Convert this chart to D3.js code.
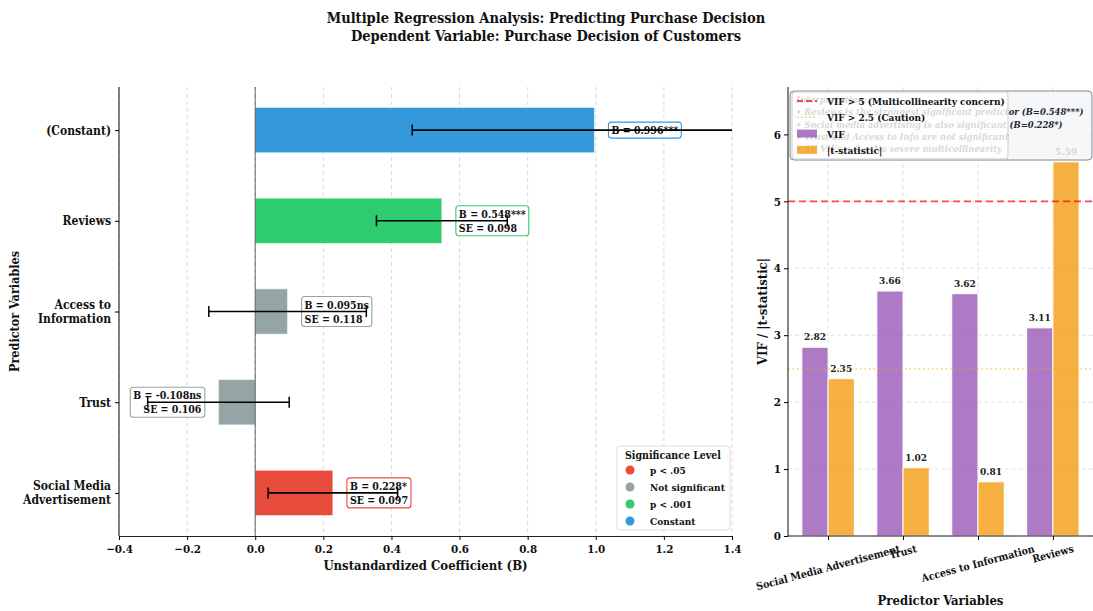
<!DOCTYPE html>
<html>
<head>
<meta charset="utf-8">
<script src="https://cdn.jsdelivr.net/npm/d3@7"></script>
<style>
  html, body { margin: 0; padding: 0; background: #fff; }
  svg { display: block; }
  text { font-family: "DejaVu Serif Condensed", "DejaVu Serif", serif; font-stretch: condensed; font-weight: bold; fill: #111; }
</style>
</head>
<body>
<svg id="chart" width="1093" height="611"></svg>
<script>
// ---- Regression coefficients (bottom to top) ----
const predictors = ["Social Media Advertisement", "Trust", "Access to Information", "Reviews", "(Constant)"];
const predictorLabels = [["Social Media", "Advertisement"], ["Trust"], ["Access to", "Information"], ["Reviews"], ["(Constant)"]];
const coefB = [0.228, -0.108, 0.095, 0.548, 0.996];
const coefSE = [0.097, 0.106, 0.118, 0.098, 0.273];
const sigMark = ["*", "ns", "ns", "***", "***"];
const sigGroup = ["p < .05", "Not significant", "Not significant", "p < .001", "Constant"];
const showSE = [true, true, true, true, false];

const sigLevels = ["p < .05", "Not significant", "p < .001", "Constant"];
const sigColors = ["#e74c3c", "#95a5a6", "#2ecc71", "#3498db"];

const coefTicks = [-0.4, -0.2, 0.0, 0.2, 0.4, 0.6, 0.8, 1.0, 1.2, 1.4];

// ---- Collinearity diagnostics ----
const vifPredictors = ["Social Media Advertisement", "Trust", "Access to Information", "Reviews"];
const vifValues = [2.82, 3.66, 3.62, 3.11];
const tAbsValues = [2.35, 1.02, 0.81, 5.59];
const vifTicks = [0, 1, 2, 3, 4, 5, 6];
const vifThresholds = [5, 2.5];

const interpretationLines = [
  "Interpretation:",
  "• Reviews is the strongest significant predictor (B=0.548***)",
  "• Social media advertising is also significant (B=0.228*)",
  "• Trust and Access to Info are not significant",
  "• All VIFs < 5 → No severe multicollinearity"
];

const svg = d3.select("#chart");
const colorOf = d3.scaleOrdinal().domain(sigLevels).range(sigColors);

// ---- Titles ----
svg.append("text").attr("x", 546).attr("y", 23).attr("text-anchor", "middle")
  .style("font-size", "14.5px").text("Multiple Regression Analysis: Predicting Purchase Decision");
svg.append("text").attr("x", 546).attr("y", 41).attr("text-anchor", "middle")
  .style("font-size", "14.5px").text("Dependent Variable: Purchase Decision of Customers");

// =================== Left panel: coefficients ===================
const L = { left: 119, right: 732, top: 87, bottom: 536 };
const x = d3.scaleLinear().domain([-0.4, 1.4]).range([L.left, L.right]);
const y = d3.scaleLinear().domain([-0.475, predictors.length - 1 + 0.475]).range([L.bottom, L.top]);
const barH = y(0) - y(0.5);

const gL = svg.append("g");

// vertical grid
gL.append("g").selectAll("line").data(coefTicks).join("line")
  .attr("x1", d => x(d)).attr("x2", d => x(d)).attr("y1", L.top).attr("y2", L.bottom)
  .attr("stroke", "#d0d0d0").attr("stroke-width", 0.8).attr("stroke-dasharray", "4,3");

// bars
gL.append("g").selectAll("rect").data(predictors).join("rect")
  .attr("x", (d, i) => x(Math.min(0, coefB[i])))
  .attr("width", (d, i) => Math.abs(x(coefB[i]) - x(0)))
  .attr("y", (d, i) => y(i) - barH / 2)
  .attr("height", barH)
  .attr("fill", (d, i) => colorOf(sigGroup[i]))
  .attr("stroke", "#fff").attr("stroke-opacity", 0.6).attr("stroke-width", 1);

// zero reference line
gL.append("line").attr("x1", x(0)).attr("x2", x(0)).attr("y1", L.top).attr("y2", L.bottom)
  .attr("stroke", "#000").attr("stroke-opacity", 0.5).attr("stroke-width", 1.2);

// value labels with boxes
const labelG = gL.append("g");
predictors.forEach((p, i) => {
  const b = coefB[i];
  const pos = b >= 0;
  const lines = ["B = " + b.toFixed(3) + sigMark[i]];
  if (showSE[i]) lines.push("SE = " + coefSE[i].toFixed(3));
  const g = labelG.append("g");
  const lh = 14;
  const tx = pos ? x(b + 0.05) : x(b - 0.05);
  const t = g.append("text")
    .attr("text-anchor", pos ? "start" : "end")
    .style("font-size", "10.5px");
  lines.forEach((ln, k) => {
    t.append("tspan").attr("x", tx)
      .attr("y", y(i) + (k - (lines.length - 1) / 2) * lh + 4)
      .text(ln);
  });
  const bb = t.node().getBBox();
  const pad = 3;
  g.insert("rect", "text")
    .attr("x", bb.x - pad).attr("y", bb.y - pad + 1)
    .attr("width", bb.width + 2 * pad).attr("height", bb.height + 2 * pad - 2)
    .attr("rx", 3).attr("ry", 3)
    .attr("fill", "#fff").attr("fill-opacity", 0.85)
    .attr("stroke", colorOf(sigGroup[i])).attr("stroke-width", 1.1);
});

// error bars (95% CI), clipped to the plot area
svg.append("clipPath").attr("id", "clipL").append("rect")
  .attr("x", L.left).attr("y", L.top).attr("width", L.right - L.left).attr("height", L.bottom - L.top);
const errG = gL.append("g").attr("clip-path", "url(#clipL)");
predictors.forEach((p, i) => {
  const lo = coefB[i] - 1.96 * coefSE[i];
  const hi = coefB[i] + 1.96 * coefSE[i];
  errG.append("line").attr("x1", x(lo)).attr("x2", x(hi)).attr("y1", y(i)).attr("y2", y(i))
    .attr("stroke", "#000").attr("stroke-width", 1.6);
  [lo, hi].forEach(v => {
    errG.append("line").attr("x1", x(v)).attr("x2", x(v)).attr("y1", y(i) - 5.5).attr("y2", y(i) + 5.5)
      .attr("stroke", "#000").attr("stroke-width", 1.5);
  });
});

// axes
const xAxisL = gL.append("g").attr("transform", `translate(0,${L.bottom})`)
  .call(d3.axisBottom(x).tickValues(coefTicks).tickFormat(d3.format(".1f")).tickSizeOuter(0).tickSize(4));
xAxisL.select(".domain").attr("stroke", "#222").attr("stroke-width", 1.1);
xAxisL.selectAll("text").style("font-size", "11.5px").attr("dy", "0.9em");

const yAxisL = gL.append("g").attr("transform", `translate(${L.left},0)`)
  .call(d3.axisLeft(y).tickValues(d3.range(predictors.length)).tickFormat("").tickSizeOuter(0).tickSize(4));
yAxisL.select(".domain").attr("stroke", "#222").attr("stroke-width", 1.1).attr("d", `M0,${L.top}V${L.bottom}`);
predictorLabels.forEach((lns, i) => {
  const t = gL.append("text").attr("text-anchor", "end").style("font-size", "12px");
  lns.forEach((ln, k) => {
    t.append("tspan").attr("x", L.left - 8)
      .attr("y", y(i) + (k - (lns.length - 1) / 2) * 14 + 4.5).text(ln);
  });
});

svg.append("text").attr("x", (L.left + L.right) / 2).attr("y", 570).attr("text-anchor", "middle")
  .style("font-size", "13px").text("Unstandardized Coefficient (B)");
svg.append("text").attr("transform", `translate(19,${(L.top + L.bottom) / 2}) rotate(-90)`)
  .attr("text-anchor", "middle").style("font-size", "12.5px").text("Predictor Variables");

// significance legend
const lg = gL.append("g").attr("transform", "translate(617,446)");
lg.append("rect").attr("width", 113).attr("height", 84).attr("rx", 3)
  .attr("fill", "#fff").attr("fill-opacity", 0.85).attr("stroke", "#ddd");
lg.append("text").attr("x", 56).attr("y", 13).attr("text-anchor", "middle")
  .style("font-size", "10.5px").text("Significance Level");
sigLevels.forEach((s, k) => {
  const yy = 24 + k * 17;
  lg.append("circle").attr("cx", 13).attr("cy", yy).attr("r", 4.5).attr("fill", sigColors[k]);
  lg.append("text").attr("x", 33).attr("y", yy + 4).style("font-size", "10px").text(s);
});

// =================== Right panel: VIF / |t| ===================
const R = { left: 788, right: 1093, top: 87, bottom: 536 };
const bw = 0.35;
const xr = d3.scaleLinear().domain([-0.535, vifPredictors.length - 1 + 0.535]).range([R.left, R.right]);
const yr = d3.scaleLinear().domain([0, d3.max(tAbsValues.concat(vifValues)) * 1.2]).range([R.bottom, R.top]);

const gR = svg.append("g");
svg.append("clipPath").attr("id", "clipR").append("rect")
  .attr("x", R.left).attr("y", R.top - 20).attr("width", R.right - R.left).attr("height", R.bottom - R.top + 20);

// grid
gR.append("g").selectAll("line").data(vifTicks).join("line")
  .attr("x1", R.left).attr("x2", R.right).attr("y1", d => yr(d)).attr("y2", d => yr(d))
  .attr("stroke", "#d8d8d8").attr("stroke-width", 0.8).attr("stroke-dasharray", "4,3");
gR.append("g").selectAll("line").data(d3.range(vifPredictors.length)).join("line")
  .attr("x1", d => xr(d)).attr("x2", d => xr(d)).attr("y1", R.top).attr("y2", R.bottom)
  .attr("stroke", "#d8d8d8").attr("stroke-width", 0.8).attr("stroke-dasharray", "4,3");

// bars
const barsR = gR.append("g").attr("clip-path", "url(#clipR)");
barsR.selectAll("rect.vif").data(vifValues).join("rect").attr("class", "vif")
  .attr("x", (d, i) => xr(i - bw)).attr("width", (d, i) => xr(i) - xr(i - bw))
  .attr("y", d => yr(d)).attr("height", d => yr(0) - yr(d))
  .attr("fill", "#9b59b6").attr("fill-opacity", 0.8).attr("stroke", "#fff").attr("stroke-width", 1);
barsR.selectAll("rect.tstat").data(tAbsValues).join("rect").attr("class", "tstat")
  .attr("x", (d, i) => xr(i)).attr("width", (d, i) => xr(i + bw) - xr(i))
  .attr("y", d => yr(d)).attr("height", d => yr(0) - yr(d))
  .attr("fill", "#f39c12").attr("fill-opacity", 0.8).attr("stroke", "#fff").attr("stroke-width", 1);

// value labels
const valG = gR.append("g");
vifValues.forEach((v, i) => {
  valG.append("text").attr("x", xr(i - bw / 2)).attr("y", yr(v) - 7).attr("text-anchor", "middle")
    .style("font-size", "10px").style("fill", "#222").text(v.toFixed(2));
});
tAbsValues.forEach((v, i) => {
  valG.append("text").attr("x", xr(i + bw / 2)).attr("y", yr(v) - 7).attr("text-anchor", "middle")
    .style("font-size", "10px").style("fill", "#222").text(v.toFixed(2));
});

// threshold lines
gR.append("line").attr("x1", R.left).attr("x2", R.right).attr("y1", yr(vifThresholds[0])).attr("y2", yr(vifThresholds[0]))
  .attr("stroke", "#ff0000").attr("stroke-opacity", 0.7).attr("stroke-width", 1.8).attr("stroke-dasharray", "7,4");
gR.append("line").attr("x1", R.left).attr("x2", R.right).attr("y1", yr(vifThresholds[1])).attr("y2", yr(vifThresholds[1]))
  .attr("stroke", "#ffa500").attr("stroke-opacity", 0.55).attr("stroke-width", 1.5).attr("stroke-dasharray", "1.5,3");

// axes
const yAxisR = gR.append("g").attr("transform", `translate(${R.left},0)`)
  .call(d3.axisLeft(yr).tickValues(vifTicks).tickFormat(d3.format("d")).tickSizeOuter(0).tickSize(4));
yAxisR.select(".domain").attr("stroke", "#222").attr("stroke-width", 1.1).attr("d", `M0,${R.top}V${R.bottom}`);
yAxisR.selectAll("text").style("font-size", "11.5px");
const xAxisR = gR.append("g").attr("transform", `translate(0,${R.bottom})`)
  .call(d3.axisBottom(xr).tickValues(d3.range(vifPredictors.length)).tickFormat("").tickSizeOuter(0).tickSize(4));
xAxisR.select(".domain").attr("stroke", "#222").attr("stroke-width", 1.1).attr("d", `M${R.left},0H${R.right}`);

vifPredictors.forEach((p, i) => {
  const t = gR.append("text").attr("text-anchor", "middle").style("font-size", "10.5px").text(p);
  const w = t.node().getComputedTextLength();
  const a = 15 * Math.PI / 180;
  const hBox = w * Math.sin(a) + 11 * Math.cos(a);
  const cy = R.bottom + 7 + hBox / 2;
  t.attr("transform", `translate(${xr(i)},${cy}) rotate(-15)`).attr("dy", "0.35em");
});

svg.append("text").attr("x", (R.left + R.right) / 2).attr("y", 605).attr("text-anchor", "middle")
  .style("font-size", "13px").text("Predictor Variables");
svg.append("text").attr("transform", `translate(767,${(R.top + R.bottom) / 2}) rotate(-90)`)
  .attr("text-anchor", "middle").style("font-size", "13px").text("VIF / |t-statistic|");

// interpretation box
const ib = svg.append("g");
ib.append("rect").attr("x", 790).attr("y", 91).attr("width", 302).attr("height", 69).attr("rx", 4)
  .attr("fill", "#f4f6f7").attr("fill-opacity", 0.85).attr("stroke", "#7f8c8d").attr("stroke-width", 1);
interpretationLines.forEach((ln, k) => {
  ib.append("text").attr("x", 796).attr("y", 103 + k * 12.3)
    .style("font-size", "9.4px").style("font-style", "italic").style("fill", "#1c2833").text(ln);
});

// legend
const rl = svg.append("g").attr("transform", "translate(792,92)");
rl.append("rect").attr("width", 216).attr("height", 67).attr("rx", 3)
  .attr("fill", "#fff").attr("fill-opacity", 0.82).attr("stroke", "#ccc");
const legendItems = [
  { label: "VIF > 5 (Multicollinearity concern)", type: "line", color: "#ff0000", opacity: 0.7, dash: "6,3", w: 1.8 },
  { label: "VIF > 2.5 (Caution)", type: "line", color: "#ffa500", opacity: 0.6, dash: "1.5,2.5", w: 1.5 },
  { label: "VIF", type: "rect", color: "#9b59b6" },
  { label: "|t-statistic|", type: "rect", color: "#f39c12" }
];
legendItems.forEach((it, k) => {
  const yy = 9 + k * 16.3;
  if (it.type === "line") {
    rl.append("line").attr("x1", 5).attr("x2", 25).attr("y1", yy).attr("y2", yy)
      .attr("stroke", it.color).attr("stroke-opacity", it.opacity).attr("stroke-width", it.w)
      .attr("stroke-dasharray", it.dash);
  } else {
    rl.append("rect").attr("x", 5).attr("y", yy - 4).attr("width", 20).attr("height", 8)
      .attr("fill", it.color).attr("fill-opacity", 0.8);
  }
  rl.append("text").attr("x", 35).attr("y", yy + 4).style("font-size", "10px").text(it.label);
});
</script>
</body>
</html>
